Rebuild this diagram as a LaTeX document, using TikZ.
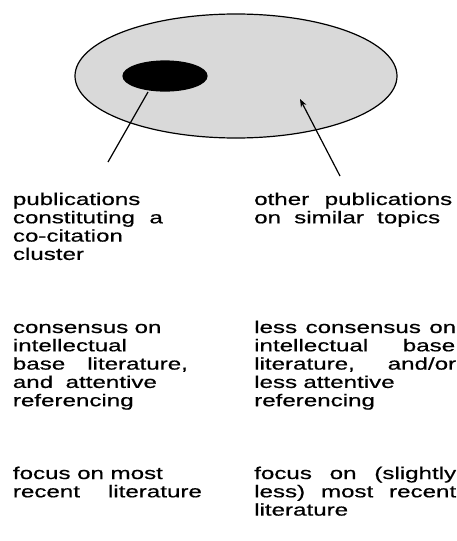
\documentclass[tikz,border=0pt]{standalone}
\usepackage{fontspec}
\setmainfont[FakeStretch=1.42,WordSpace=1.4,FakeBold=0.6]{Liberation Sans}
\usetikzlibrary{shapes.geometric,arrows.meta}
\newcommand{\jl}[2]{\makebox[#1pt][s]{#2}}
\tikzset{
  txt/.style={anchor=base west, inner sep=0pt, font=\fontsize{17}{18}\selectfont},
  blob/.style={ellipse, draw=black, line width=1.2pt, inner sep=0pt},
  pointer/.style={line width=1.2pt, draw=black}
}
\begin{document}
\begin{tikzpicture}[x=1pt,y=-1pt]
\useasboundingbox (0,0) rectangle (457,541);
\node[blob, fill=black!15, minimum width=322pt, minimum height=124pt] (field) at (236,76) {};
\node[blob, fill=black, minimum width=84pt, minimum height=30pt] (cluster) at (165,76) {};
\coordinate (cl) at (148,92);
\coordinate (clend) at (108,162);
\coordinate (ot) at (300,99);
\coordinate (otend) at (340,176);
\draw[pointer] (clend) -- (cl);
\draw[pointer, -{Stealth[length=8pt,width=6pt]}] (otend) -- (ot);
\foreach \nm/\x/\y/\t in {
  a1/12.7/205/{publications},
  a2/12.7/223.3/{\jl{150}{constituting a}},
  a3/12.7/241.6/{co-citation},
  a4/12.7/259.9/{cluster},
  b1/254/205/{\jl{198}{other publications}},
  b2/254/223.3/{\jl{186}{on similar topics}},
  c1/12.7/333/{\jl{139}{consensus on}},
  c2/12.7/351.3/{intellectual},
  c3/12.7/369.6/{\jl{175}{base literature,}},
  c4/12.7/387.9/{\jl{144}{and attentive}},
  c5/12.7/406.2/{referencing},
  d1/254/333/{\jl{202}{less consensus on}},
  d2/254/351.3/{\jl{201}{intellectual base}},
  d3/254/369.6/{\jl{202}{literature, and/or}},
  d4/254/387.9/{\jl{139}{less attentive}},
  d5/254/406.2/{referencing},
  e1/12.7/479/{\jl{150}{focus on most}},
  e2/12.7/497.3/{\jl{189}{recent literature}},
  f1/254/479/{\jl{202}{focus on (slightly}},
  f2/254/497.3/{\jl{202}{less) most recent}},
  f3/254/515.6/{literature}
} { \node[txt] (\nm) at (\x,\y) {\t}; }
\end{tikzpicture}
\end{document}
